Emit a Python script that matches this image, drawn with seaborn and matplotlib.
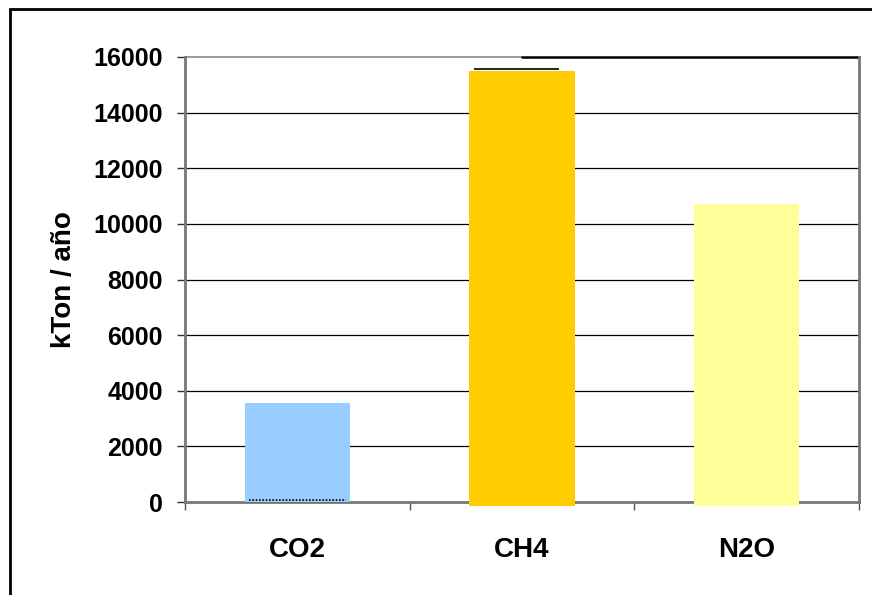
import matplotlib
matplotlib.use("Agg")
import matplotlib.pyplot as plt
import seaborn as sns
import pandas as pd
from matplotlib.patches import Rectangle

# Annual emissions by gas (kTon / año)
gases = ["CO2", "CH4", "N2O"]
emissions = [3560, 15500, 10700]
bar_colors = ["#99CCFF", "#FFCC00", "#FFFF99"]
y_ticks = [0, 2000, 4000, 6000, 8000, 10000, 12000, 14000, 16000]

df = pd.DataFrame({"gas": gases, "kton": emissions})

sns.set_theme(style="white")
plt.rcParams["font.family"] = ["Liberation Sans", "DejaVu Sans"]
plt.rcParams["text.color"] = "black"
plt.rcParams["axes.labelcolor"] = "black"
plt.rcParams["xtick.color"] = "black"
plt.rcParams["ytick.color"] = "black"

fig = plt.figure(figsize=(8.72, 5.95), dpi=100)
ax = fig.add_axes([185 / 872, 93 / 595, 674 / 872, 445 / 595])

sns.barplot(data=df, x="gas", y="kton", hue="gas", palette=bar_colors,
            width=0.47, saturation=1, legend=False, ax=ax, zorder=3)

# the taller bars sit slightly below the baseline, as in the original workbook
for patch, val in zip(ax.patches, emissions):
    patch.set_edgecolor("none")
    patch.set_clip_on(False)
    if val > 5000:
        patch.set_y(-150)
        patch.set_height(val + 150)

# thin dark cap above the CH4 bar
ch4 = ax.patches[1]
ax.plot([ch4.get_x() + 0.02, ch4.get_x() + ch4.get_width() - 0.07],
        [ch4.get_y() + ch4.get_height() + 60] * 2, color="black", lw=1.2,
        zorder=4, clip_on=False, solid_capstyle="butt")

# dotted baseline under CO2
co2 = ax.patches[0]
ax.plot([co2.get_x() + 0.02, co2.get_x() + co2.get_width() - 0.02],
        [60, 60], color="black", lw=1.2, ls=(0, (1, 1)), zorder=4)

ax.set_ylim(0, 16000)
ax.set_xlim(-0.5, 2.5)
ax.set_yticks(y_ticks)
ax.set_yticklabels([str(t) for t in y_ticks], fontsize=18, fontweight="bold")

# gridlines
for t in y_ticks[1:-1]:
    ax.axhline(t, color="black", lw=0.9, zorder=1)
ax.axhline(16000, xmin=0, xmax=0.5, color="#888888", lw=1.2, zorder=1, clip_on=False)
ax.axhline(16000, xmin=0.5, xmax=1, color="black", lw=1.8, zorder=1, clip_on=False)

# category boundaries as major ticks, names as minor ticks
ax.set_xticks([-0.5, 0.5, 1.5, 2.5])
ax.set_xticklabels([])
ax.set_xticks([0, 1, 2], minor=True)
ax.set_xticklabels(gases, minor=True, fontsize=20, fontweight="bold")
ax.tick_params(axis="x", which="major", direction="out", length=6, width=1, color="#555555", bottom=True)
ax.tick_params(axis="x", which="minor", length=0, pad=25)
ax.tick_params(axis="y", direction="out", length=6, width=1, color="#333333", left=True, pad=10)
ax.set_xlabel("")
ax.set_ylabel("kTon / año", fontsize=20, fontweight="bold", labelpad=12)

for side in ["left", "bottom", "right"]:
    ax.spines[side].set_visible(True)
    ax.spines[side].set_color("#777777")
    ax.spines[side].set_linewidth(2)
ax.spines["top"].set_visible(False)

# outer chart frame
fig.patches.append(Rectangle((10 / 872, -0.1), 1.2, (586 / 595) + 0.1,
                             transform=fig.transFigure, fill=False,
                             edgecolor="black", lw=2))

fig.savefig("out.png", dpi=100, facecolor="white")
